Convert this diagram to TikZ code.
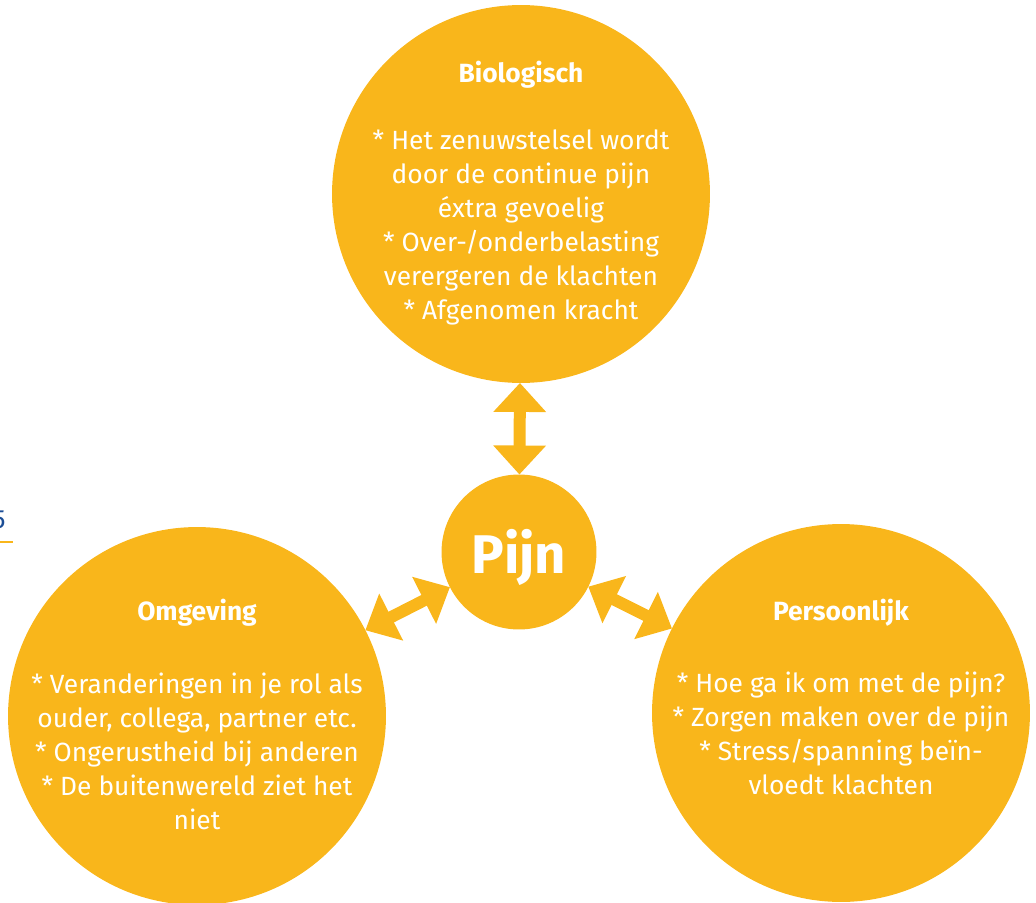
\documentclass[tikz,border=0pt]{standalone}
\usepackage{fontspec}
\setmainfont{Fira Sans}
\usetikzlibrary{arrows.meta}

\definecolor{pijnoranje}{RGB}{249,182,27}
\definecolor{paginablauw}{RGB}{28,78,150}

\begin{document}
\begin{tikzpicture}[x=0.02cm,y=-0.02cm,
  bol/.style={circle,fill=pijnoranje,inner sep=0pt,outer sep=0pt,minimum size=7.56cm},
  kop/.style={text=white,font=\fontsize{15}{19}\selectfont\bfseries},
  tekst/.style={text=white,align=center,font=\fontsize{15}{19.35}\selectfont},
  pijl/.style={pijnoranje,line width=0.24cm,
    {Triangle[width=1.02cm,length=0.58cm]}-{Triangle[width=1.02cm,length=0.58cm]}}]
\useasboundingbox (0,0) rectangle (1036,903);
\clip (0,0) rectangle (1036,903);

% paginarand
\node[text=paginablauw,font=\fontsize{15}{18}\selectfont,anchor=east,inner sep=0pt] (paginanr) at (6,520) {5};
\draw[pijnoranje,line width=1.2pt] (0,542) -- (13,542);

% cirkels
\node[bol] (bio) at (521,194) {};
\node[bol] (omg) at (197,716) {};
\node[bol] (pers) at (841,713) {};
\node[bol,minimum size=3.1cm] (pijn) at (519,552) {};
\node[text=white,font=\fontsize{31}{38}\selectfont\bfseries] (pijntekst) at ([yshift=-0.1cm]pijn) {Pijn};

% pijlen
\draw[pijl] (bio) -- (pijn);
\draw[pijl] (pijn) -- (omg);
\draw[pijl] (pijn) -- (pers);

% teksten
\node[kop] (biokop) at (521,75) {Biologisch};
\node[tekst] (biotekst) at (521,227) {* Het zenuwstelsel wordt\\door de continue pijn\\éxtra gevoelig\\* Over-/onderbelasting\\verergeren de klachten\\* Afgenomen kracht};

\node[kop] (omgkop) at (197,613) {Omgeving};
\node[tekst] (omgtekst) at (197,751) {* Veranderingen in je rol als\\ouder, collega, partner etc.\\* Ongerustheid bij anderen\\* De buitenwereld ziet het\\niet};

\node[kop] (perskop) at (841,613) {Persoonlijk};
\node[tekst] (perstekst) at (841,733) {* Hoe ga ik om met de pijn?\\* Zorgen maken over de pijn\\* Stress/spanning beïn-\\vloedt klachten};
\end{tikzpicture}
\end{document}
